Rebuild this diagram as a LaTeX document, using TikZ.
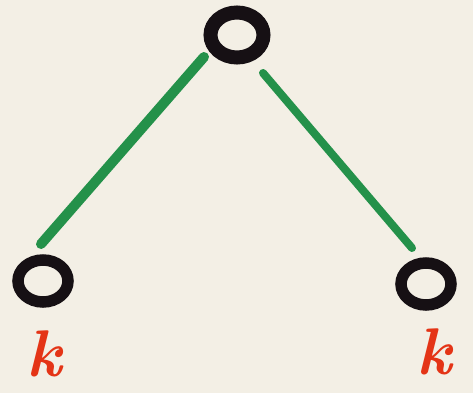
\documentclass[tikz,border=0pt]{standalone}
\definecolor{paper}{RGB}{243,239,229}
\definecolor{ink}{RGB}{22,16,20}
\definecolor{marker}{RGB}{36,145,74}
\definecolor{redink}{RGB}{228,52,22}
\begin{document}
\begin{tikzpicture}[x=1pt,y=-1pt,
  ring/.style={draw=ink,line width=#1},
  edge/.style={draw=marker,line width=10pt,line cap=round},
  klabel/.style={text=redink,font=\fontsize{66}{66}\selectfont\bfseries\itshape,inner sep=0pt}]
\fill[paper] (0,0) rectangle (473,393);
\useasboundingbox (0,0) rectangle (473,393);
\coordinate (top) at (237,35);
\coordinate (left) at (43,281);
\coordinate (right) at (426,284);
\draw[ring=14pt] (top) ellipse [x radius=26.5, y radius=22.5];
\draw[ring=11.5pt] (left) ellipse [x radius=25, y radius=21];
\draw[ring=11.5pt] (right) ellipse [x radius=25, y radius=21];
\coordinate (la) at (204,57);
\coordinate (lb) at (41,244);
\coordinate (ra) at (263,73);
\coordinate (rb) at (412,248);
\draw[edge] (la) -- (lb);
\draw[edge,line width=8pt] (ra) -- (rb);
\node[klabel] (k1) at (44,354) {k};
\node[klabel] (k2) at (434,352) {k};
\end{tikzpicture}
\end{document}
